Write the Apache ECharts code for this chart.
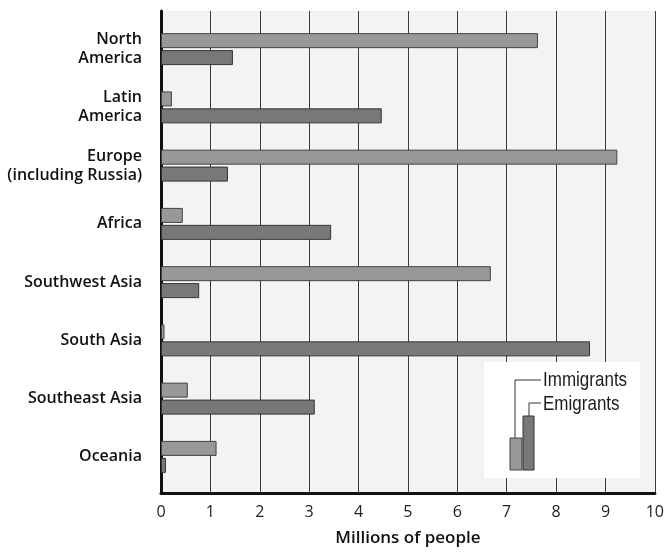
<!DOCTYPE html>
<html>
<head>
<meta charset="utf-8">
<script src="https://cdn.jsdelivr.net/npm/echarts@6/dist/echarts.min.js"></script>
<style>
html,body{margin:0;padding:0;background:#fff;}
#chart{width:667px;height:552px;}
</style>
</head>
<body>
<div id="chart"></div>
<script>
var categories = ['North\nAmerica', 'Latin\nAmerica', 'Europe\n(including Russia)', 'Africa', 'Southwest Asia', 'South Asia', 'Southeast Asia', 'Oceania'];
var immigrants = [7.6, 0.22, 9.2, 0.44, 6.65, 0.07, 0.54, 1.12];
var emigrants = [1.45, 4.45, 1.35, 3.43, 0.77, 8.65, 3.1, 0.1];
var xTicks = [0, 1, 2, 3, 4, 5, 6, 7, 8, 9, 10];

var chart = echarts.init(document.getElementById('chart'));
var labelFont = 'Open Sans';
var legendFont = '21px "Liberation Sans", Arial, sans-serif';
var option = {
  backgroundColor: '#fff',
  animation: false,
  grid: [
    {left: 161, right: 10, top: 11, bottom: 52, show: true, backgroundColor: '#f3f3f3', borderWidth: 0},
    {left: 161, right: 10, top: 20, bottom: 66}
  ],
  xAxis: [
    {
      gridIndex: 0, type: 'value', min: xTicks[0], max: xTicks[xTicks.length - 1], interval: 1,
      axisLine: {show: true, lineStyle: {color: '#111', width: 3}},
      axisTick: {show: false},
      axisLabel: {show: true, margin: 11, color: '#222', fontFamily: labelFont, fontSize: 16},
      splitLine: {show: true, lineStyle: {color: '#3a3a3a', width: 1}},
      name: 'Millions of people', nameLocation: 'middle', nameGap: 37,
      nameTextStyle: {color: '#111', fontFamily: labelFont, fontWeight: 600, fontSize: 17}
    },
    {
      gridIndex: 1, type: 'value', min: 0, max: 10, show: false
    }
  ],
  yAxis: [
    {
      gridIndex: 0, type: 'value', min: 0, max: 1,
      axisLine: {show: true, lineStyle: {color: '#111', width: 3}},
      axisTick: {show: false}, axisLabel: {show: false}, splitLine: {show: false}
    },
    {
      gridIndex: 1, type: 'category', data: categories, inverse: true,
      axisLine: {show: false}, axisTick: {show: false}, splitLine: {show: false},
      axisLabel: {margin: 19, color: '#111', fontFamily: labelFont, fontWeight: 600, fontSize: 16, lineHeight: 19, align: 'right'}
    }
  ],
  series: [
    {
      name: 'Immigrants', type: 'bar', xAxisIndex: 1, yAxisIndex: 1, data: immigrants,
      barWidth: 15, barGap: '13%',
      itemStyle: {color: '#989898', borderColor: '#444', borderWidth: 1}
    },
    {
      name: 'Emigrants', type: 'bar', xAxisIndex: 1, yAxisIndex: 1, data: emigrants,
      barWidth: 15, barGap: '13%',
      itemStyle: {color: '#787878', borderColor: '#333', borderWidth: 1}
    }
  ],
  graphic: [
    {type: 'rect', z: 10, shape: {x: 484, y: 362, width: 156, height: 116}, style: {fill: '#ffffff'}},
    {type: 'rect', z: 11, shape: {x: 510, y: 438, width: 12, height: 32}, style: {fill: '#989898', stroke: '#444', lineWidth: 1}},
    {type: 'rect', z: 11, shape: {x: 523, y: 416, width: 11, height: 54}, style: {fill: '#787878', stroke: '#333', lineWidth: 1}},
    {type: 'polyline', z: 11, shape: {points: [[515, 438], [515, 380], [541, 380]]}, style: {stroke: '#333', lineWidth: 1, fill: null}},
    {type: 'polyline', z: 11, shape: {points: [[529, 416], [529, 403], [541, 403]]}, style: {stroke: '#333', lineWidth: 1, fill: null}},
    {type: 'text', z: 11, x: 543, y: 380, scaleX: 0.81, style: {x: 0, y: 0, text: 'Immigrants', fill: '#1a1a1a', font: legendFont, verticalAlign: 'middle'}},
    {type: 'text', z: 11, x: 543, y: 404, scaleX: 0.81, style: {x: 0, y: 0, text: 'Emigrants', fill: '#1a1a1a', font: legendFont, verticalAlign: 'middle'}}
  ]
};
chart.setOption(option);
</script>
</body>
</html>
